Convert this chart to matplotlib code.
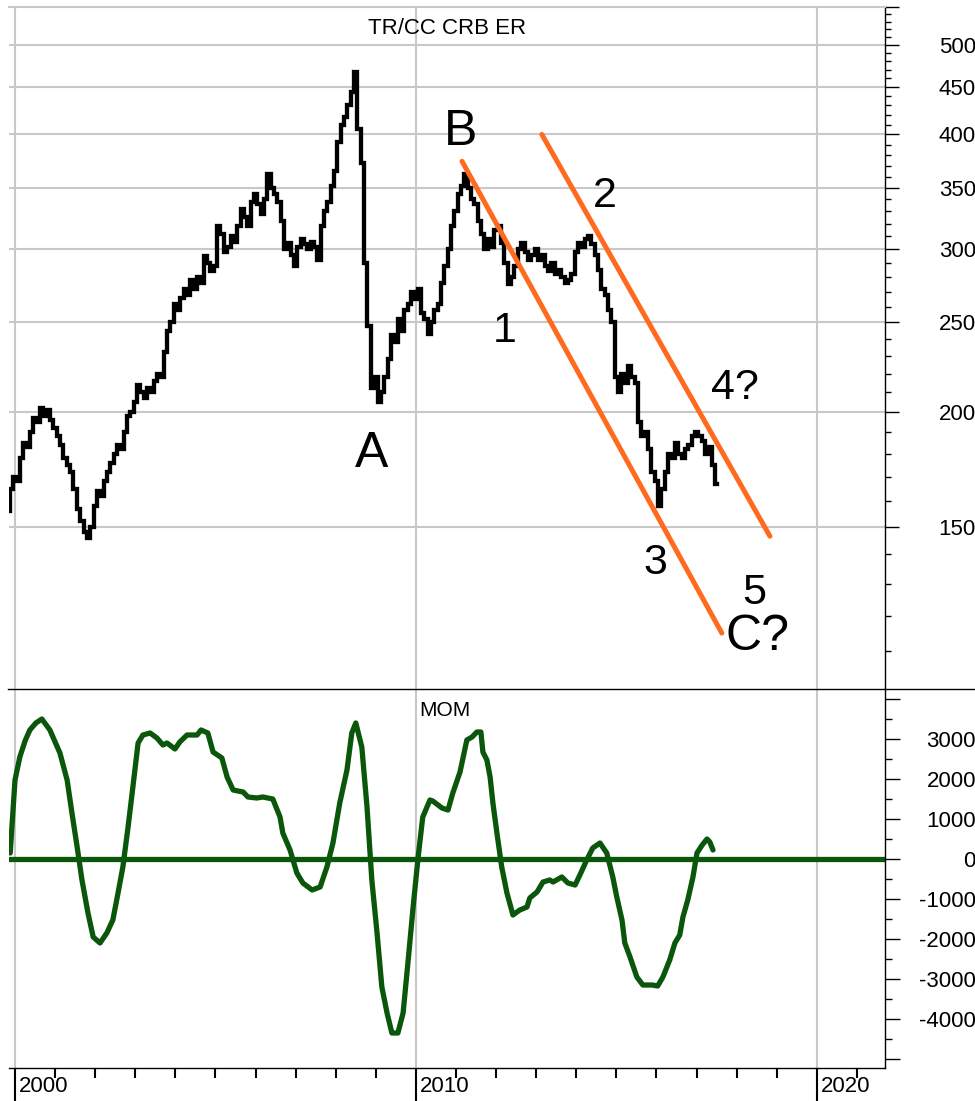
import numpy as np
import matplotlib.pyplot as plt
import matplotlib.ticker as mticker
import matplotlib.transforms as mtransforms
from matplotlib.lines import Line2D

plt.rcParams['font.family'] = ['Liberation Sans', 'DejaVu Sans']

# monthly price, Nov 1999 .. Jun 2017
price = [156, 165,
         170, 168, 178, 185, 183, 190, 197, 195, 202, 198, 201, 196,
         192, 188, 184, 178, 175, 172, 165, 157, 152, 148, 146, 150,
         158, 164, 162, 168, 172, 176, 180, 184, 182, 190, 198, 200,
         205, 214, 210, 207, 212, 210, 216, 220, 218, 232, 245, 250,
         262, 258, 266, 272, 268, 278, 272, 280, 276, 295, 290, 284,
         288, 318, 312, 298, 302, 310, 306, 318, 332, 325, 318, 338,
         345, 336, 328, 340, 362, 350, 345, 338, 322, 300, 305, 296,
         288, 302, 308, 304, 300, 306, 302, 292, 318, 330, 338, 352,
         365, 392, 410, 418, 430, 445, 468, 405, 372, 290, 248, 212,
         218, 205, 210, 218, 228, 242, 238, 252, 245, 258, 262, 270,
         265, 272, 256, 252, 243, 250, 258, 262, 276, 288, 300, 318,
         330, 345, 352, 362, 350, 340, 336, 322, 312, 300, 308, 302,
         315, 318, 305, 290, 275, 280, 288, 300, 305, 298, 292, 296,
         300, 292, 296, 288, 284, 290, 282, 285, 280, 276, 278, 282,
         298, 305, 302, 308, 310, 304, 296, 285, 272, 268, 258, 250,
         218, 210, 220, 215, 224, 218, 215, 195, 188, 190, 182, 172,
         168, 158, 165, 172, 180, 178, 185, 180, 178, 182, 184, 188,
         190, 188, 186, 180, 183, 175, 167]
price_years = 1999 + (10 + np.arange(len(price))) / 12

mom_years = [1999.88, 2000.0, 2000.12, 2000.25, 2000.37, 2000.52, 2000.67, 2000.87,
             2001.12, 2001.30, 2001.42, 2001.55, 2001.67, 2001.82, 2001.95,
             2002.12, 2002.29, 2002.44, 2002.57, 2002.69, 2002.82, 2002.94,
             2003.07, 2003.19, 2003.37, 2003.54, 2003.69, 2003.79, 2003.99,
             2004.11, 2004.29, 2004.54, 2004.64, 2004.81, 2004.94,
             2005.16, 2005.29, 2005.44, 2005.69, 2005.81,
             2006.03, 2006.18, 2006.43, 2006.61, 2006.68, 2006.86,
             2007.03, 2007.18, 2007.41, 2007.61, 2007.78, 2007.93,
             2008.10, 2008.28, 2008.40, 2008.50, 2008.65, 2008.78, 2008.90,
             2009.03, 2009.15, 2009.28, 2009.40, 2009.55, 2009.68, 2009.80, 2009.93,
             2010.05, 2010.17, 2010.35, 2010.42, 2010.65, 2010.80, 2010.92,
             2011.10, 2011.27, 2011.40, 2011.52, 2011.62, 2011.67, 2011.77, 2011.85, 2011.92,
             2012.02, 2012.14, 2012.27, 2012.42, 2012.59, 2012.77, 2012.84,
             2013.02, 2013.17, 2013.34, 2013.42, 2013.64, 2013.79, 2013.97,
             2014.09, 2014.26, 2014.41, 2014.59, 2014.76, 2014.91,
             2015.01, 2015.14, 2015.21, 2015.34, 2015.51, 2015.66, 2015.89,
             2016.03, 2016.16, 2016.33, 2016.46, 2016.58, 2016.66, 2016.78, 2016.91,
             2017.01, 2017.14, 2017.26, 2017.33, 2017.41]
mom_vals = [150, 1975, 2550, 2950, 3225, 3400, 3500, 3225,
            2650, 1975, 1150, 300, -525, -1350, -1950,
            -2100, -1850, -1525, -850, -200, 800, 1800,
            2900, 3100, 3150, 3025, 2850, 2900, 2750,
            2925, 3100, 3100, 3225, 3150, 2675,
            2525, 2050, 1725, 1675, 1550,
            1525, 1550, 1500, 1050, 650, 225,
            -350, -600, -775, -700, -200, 400,
            1400, 2225, 3150, 3400, 2800, 1300, -525,
            -1850, -3200, -3850, -4350, -4350, -3850, -2600, -1200,
            0, 1050, 1475, 1450, 1275, 1225, 1650,
            2175, 2975, 3050, 3175, 3175, 2675, 2475, 2050, 1400,
            650, -200, -850, -1400, -1275, -1200, -975,
            -825, -575, -525, -575, -450, -600, -650,
            -400, -25, 275, 400, 150, -450,
            -950, -1525, -2100, -2450, -2950, -3150, -3150,
            -3175, -2950, -2525, -2100, -1900, -1450, -1025, -450,
            150, 350, 500, 425, 225]

# channel lines drawn on the chart
lower_line_x = [2011.15, 2017.63]
lower_line_y = [374, 115]
upper_line_x = [2013.14, 2018.83]
upper_line_y = [400, 146.5]

price_ticks = [150, 200, 250, 300, 350, 400, 450, 500, 550]
mom_ticks = [-5000, -4000, -3000, -2000, -1000, 0, 1000, 2000, 3000, 4000]
decades = [2000, 2010, 2020]

grid_c = '#c8c8c8'
green = '#0a560a'
orange = '#ff6a1f'

W, H = 975, 1101
fig = plt.figure(figsize=(W / 100, H / 100), dpi=100)
ax1 = fig.add_axes([9 / W, 1 - 689 / H, 876 / W, 682 / H])
ax2 = fig.add_axes([9 / W, 1 - 1068 / H, 876 / W, 379 / H])

xlim = (1999.85, 2021.70)

# ---- price panel
ax1.set_yscale('log')
ax1.set_xlim(*xlim)
ax1.set_ylim(100, 550)
for v in price_ticks[:-1]:
    ax1.axhline(v, color=grid_c, lw=1.5, zorder=0)
for d in decades:
    ax1.axvline(d, color=grid_c, lw=1.5, zorder=0)

ax1.plot(price_years, price, color='black', lw=3.1, drawstyle='steps-mid',
         solid_joinstyle='miter', zorder=3)
ax1.plot(lower_line_x, lower_line_y, color=orange, lw=3.6, solid_capstyle='round', zorder=4)
ax1.plot(upper_line_x, upper_line_y, color=orange, lw=3.6, solid_capstyle='round', zorder=4)

big = dict(fontsize=36, ha='center', va='center', color='black')
num = dict(fontsize=31, ha='center', va='center', color='black')
ax1.text(2008.90, 180, 'A', **big)
ax1.text(2011.12, 402, 'B', **big)
ax1.text(2012.22, 245, '1', **num)
ax1.text(2014.71, 343, '2', **num)
ax1.text(2015.96, 137, '3', **num)
ax1.text(2017.96, 212, '4?', **num)
ax1.text(2018.45, 127, '5', **num)
ax1.text(2018.53, 114, 'C?', **big)

ax1.yaxis.set_major_locator(mticker.FixedLocator(price_ticks))
ax1.yaxis.set_minor_locator(mticker.FixedLocator(
    [v for v in range(100, 551, 10) if v % 50 != 0]))
ax1.yaxis.set_major_formatter(mticker.FuncFormatter(
    lambda v, p: str(int(round(v))) if v <= 500 else ''))
ax1.yaxis.set_minor_formatter(mticker.NullFormatter())
ax1.yaxis.tick_right()
ax1.tick_params(axis='y', which='major', length=10, width=1, pad=55.5,
                labelsize=16, direction='out')
ax1.tick_params(axis='y', which='minor', length=4.5, width=1, direction='out')
for lab in ax1.get_yticklabels():
    lab.set_ha('right')
ax1.tick_params(axis='x', which='both', bottom=False, labelbottom=False)
ax1.spines['left'].set_visible(False)
ax1.spines['top'].set_color(grid_c)
ax1.spines['top'].set_linewidth(1.5)
ax1.spines['bottom'].set_visible(False)
ax1.spines['right'].set_linewidth(1)

# ---- momentum panel
ax2.set_xlim(*xlim)
ax2.set_ylim(-5225, 4250)
for d in decades:
    ax2.axvline(d, color=grid_c, lw=1.5, zorder=0)
ax2.axhline(0, color=green, lw=3.8, zorder=2)
ax2.plot(mom_years, mom_vals, color=green, lw=3.8, solid_capstyle='round',
         solid_joinstyle='round', zorder=3)

ax2.yaxis.set_major_locator(mticker.FixedLocator(mom_ticks))
ax2.yaxis.set_minor_locator(mticker.FixedLocator([v + 500 for v in mom_ticks[:-1]]))
ax2.yaxis.set_major_formatter(mticker.FuncFormatter(
    lambda v, p: str(int(round(v))) if -4000 <= v <= 3000 else ''))
ax2.yaxis.tick_right()
ax2.tick_params(axis='y', which='major', length=11, width=1, pad=54.5,
                labelsize=16, direction='out')
ax2.tick_params(axis='y', which='minor', length=5, width=1, direction='out')
for lab in ax2.get_yticklabels():
    lab.set_ha('right')

ax2.xaxis.set_major_locator(mticker.FixedLocator(decades))
ax2.xaxis.set_minor_locator(mticker.FixedLocator(
    [y for y in range(2000, 2022) if y not in decades]))
ax2.xaxis.set_major_formatter(mticker.NullFormatter())
ax2.tick_params(axis='x', which='major', length=24, width=1.5, direction='out')
ax2.tick_params(axis='x', which='minor', length=7, width=1.5, direction='out')
trans = mtransforms.blended_transform_factory(ax2.transData, ax2.transAxes)
for d in decades:
    ax2.text(d + 0.1, -0.05, str(d), transform=trans, ha='left', va='center',
             fontsize=16)
ax2.spines['left'].set_visible(False)
ax2.spines['top'].set_visible(False)
ax2.spines['right'].set_linewidth(1)
ax2.spines['bottom'].set_linewidth(1)

# separator between panels runs across the whole width
fig.add_artist(Line2D([8 / W, 1], [1 - 689 / H, 1 - 689 / H], color='black', lw=1))

fig.text(447 / W, 1 - 28 / H, 'TR/CC CRB ER', ha='center', va='center', fontsize=16)
fig.text(419 / W, 1 - 710 / H, 'MOM', ha='left', va='center', fontsize=15)

fig.savefig('out.png', dpi=100)
